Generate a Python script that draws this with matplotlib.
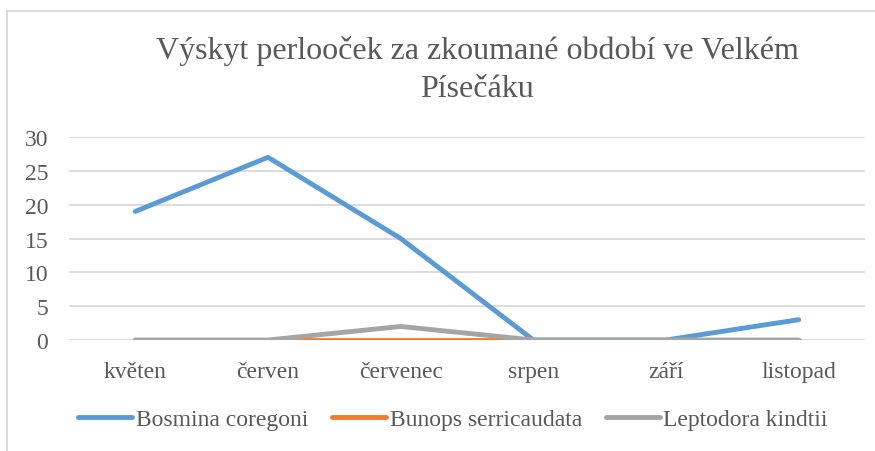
import matplotlib.pyplot as plt
from matplotlib.lines import Line2D

# data
months = ['květen', 'červen', 'červenec', 'srpen', 'září', 'listopad']
bosmina = [19, 27, 15, 0, 0, 3]
bunops = [0, 0, 0, 0, 0, 0]
leptodora = [0, 0, 2, 0, 0, 0]
series_names = ['Bosmina coregoni', 'Bunops serricaudata', 'Leptodora kindtii']
colors = ['#5b9bd5', '#ed7d31', '#a5a5a5']
title = 'Výskyt perlooček za zkoumané období ve Velkém\nPísečáku'
yticks = [0, 5, 10, 15, 20, 25, 30]

text_col = '#595959'
grid_col = '#d9d9d9'

plt.rcParams['font.family'] = ['Liberation Serif', 'DejaVu Serif']


def main():
	fig = plt.figure(figsize=(8.75, 4.52), dpi=100)
	ax = fig.add_axes([69 / 875, 1 - 341 / 452, (865 - 69) / 875, (341 - 138) / 452])

	x = list(range(len(months)))
	for vals, name, c in zip([bosmina, bunops, leptodora], series_names, colors):
		ax.plot(x, vals, color=c, lw=3.5, label=name, solid_capstyle='round',
			solid_joinstyle='round', zorder=3)

	ax.set_xlim(-0.5, len(months) - 0.5)
	ax.set_ylim(0, 30)
	ax.set_yticks(yticks)
	ax.set_xticks(x)
	ax.set_xticklabels(months)
	ax.yaxis.grid(True, color=grid_col, lw=1.3)
	ax.set_axisbelow(True)
	for s in ax.spines.values():
		s.set_visible(False)
	ax.tick_params(axis='both', length=0, labelsize=17, colors=text_col)
	ax.tick_params(axis='y', pad=15)
	ax.tick_params(axis='x', pad=15)

	fig.text(477 / 875, 1 - 36 / 452, title, ha='center', va='top', fontsize=23,
		color=text_col, linespacing=1.4)

	leg = fig.legend(*ax.get_legend_handles_labels(), loc='center', ncol=3,
		bbox_to_anchor=(453 / 875, 1 - 420 / 452), frameon=False, fontsize=17,
		handlelength=2.3, handletextpad=0.15, columnspacing=1.0)
	for t in leg.get_texts():
		t.set_color(text_col)

	# chart area border (left and top edges visible)
	fig.add_artist(Line2D([7 / 875, 7 / 875], [0, 1 - 12 / 452], color=grid_col, lw=1.3))
	fig.add_artist(Line2D([7 / 875, 1], [1 - 12 / 452, 1 - 12 / 452], color=grid_col, lw=1.3))

	fig.savefig('out.png', dpi=100)


if __name__ == '__main__':
	main()
